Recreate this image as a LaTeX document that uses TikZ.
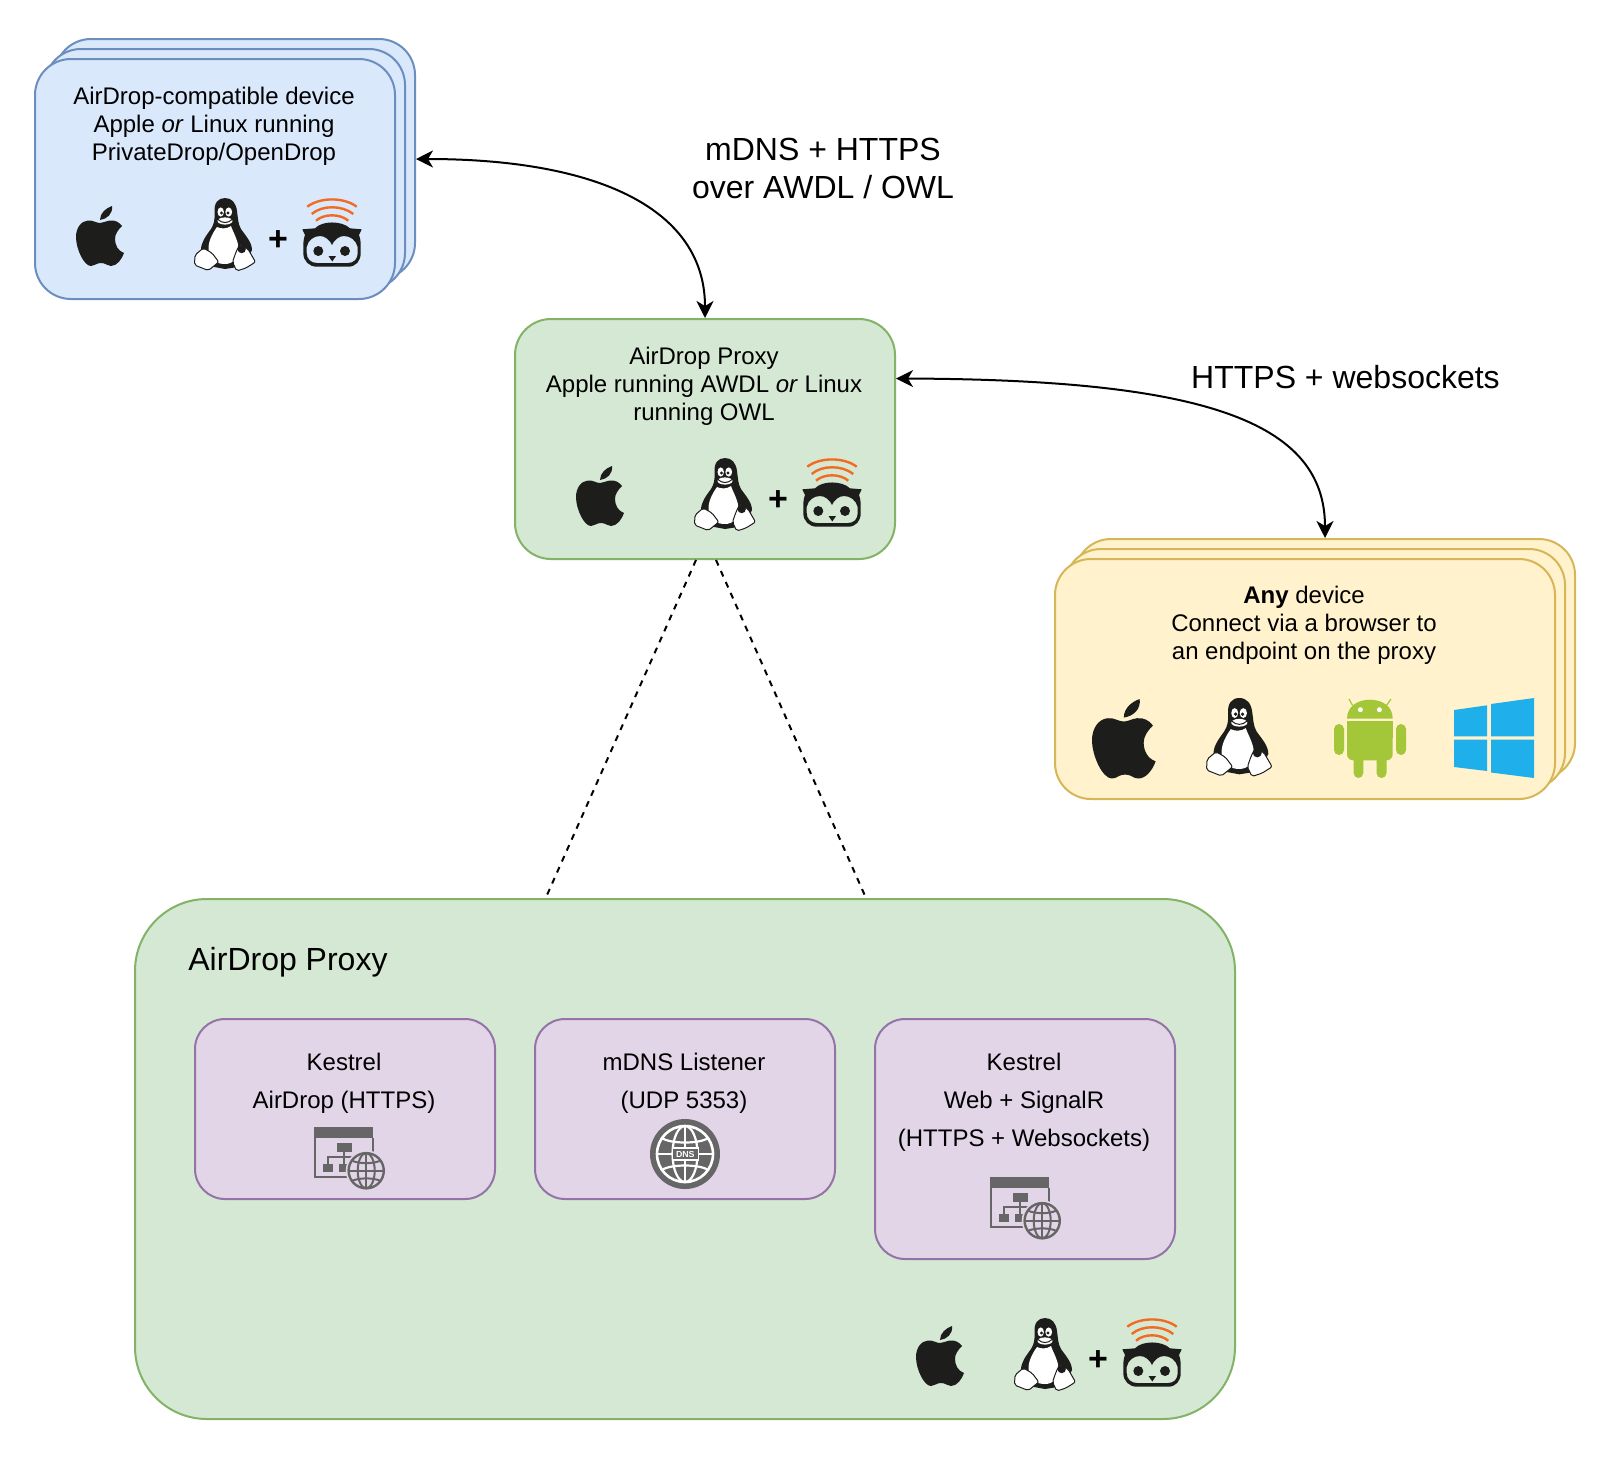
\documentclass[tikz,border=0pt]{standalone}
\usepackage{fontspec}
\setmainfont{Liberation Sans}
\usetikzlibrary{arrows.meta,calc}
\definecolor{ink}{HTML}{1D1D1B}
\definecolor{owlorange}{HTML}{F26B21}
\definecolor{droid}{HTML}{A4C639}
\definecolor{winblue}{HTML}{1FB0EC}
\definecolor{netgray}{HTML}{666666}
\definecolor{lilac}{HTML}{E1D5E7}
\tikzset{
  panel/.style={draw,line width=1pt,rounded corners=18pt,inner sep=0pt},
  bluepanel/.style={panel,fill={rgb,255:red,218;green,232;blue,252},draw={rgb,255:red,108;green,142;blue,191},minimum width=180pt,minimum height=120pt},
  yellowpanel/.style={panel,fill={rgb,255:red,255;green,242;blue,204},draw={rgb,255:red,214;green,182;blue,86},minimum width=250pt,minimum height=120pt},
  greenpanel/.style={panel,fill={rgb,255:red,213;green,232;blue,212},draw={rgb,255:red,130;green,179;blue,102}},
  purplepanel/.style={panel,fill=lilac,draw={rgb,255:red,150;green,115;blue,166},rounded corners=15pt,minimum width=150pt},
  body/.style={align=center,inner sep=0pt,font=\fontsize{12}{14}\selectfont},
  tallbody/.style={align=center,inner sep=0pt,font=\fontsize{12}{19}\selectfont},
  biglabel/.style={align=center,inner sep=0pt,font=\fontsize{16}{19}\selectfont},
  plussign/.style={inner sep=0pt,font=\fontsize{17}{17}\selectfont\bfseries},
  link/.style={line width=1pt,{Stealth[length=8.5pt,width=8.5pt,inset=2.5pt]}-{Stealth[length=8.5pt,width=8.5pt,inset=2.5pt]}},
  tie/.style={line width=1pt,dash pattern=on 3pt off 3pt},
  appleicon/.pic={
    \fill[ink] (24,17) .. controls (20,17) and (17,14) .. (12,14.5) .. controls (5,15) and (0,22) .. (0,31) .. controls (0,43) and (8,60) .. (15,60) .. controls (19,60) and (20,57) .. (25,57) .. controls (30,57) and (31,60) .. (35,60) .. controls (41,60) and (46,53) .. (48,47) .. controls (42,45) and (39,39) .. (39,33) .. controls (39,28) and (42,24) .. (46,20) .. controls (43,16) and (39,14) .. (34,14.5) .. controls (30,15) and (27,17) .. (24,17) -- cycle;
    \fill[ink] (24,14) .. controls (24,7) and (30,2) .. (36,0) .. controls (37,8) and (31,13) .. (24,14) -- cycle;
  },
  tuxicon/.pic={
    \fill[ink] (31,0) .. controls (24,0) and (20,5) .. (20.5,14) .. controls (21,22) and (20,26) .. (17,31) .. controls (12,38) and (7,44) .. (7,52) -- (15,68) -- (31,71) -- (50,68) -- (58,52) .. controls (58,44) and (51,37) .. (47,31) .. controls (44,26) and (44,20) .. (43,13) .. controls (42,5) and (38,0) .. (31,0) -- cycle;
    \fill[white] (23,29) .. controls (18,36) and (14,44) .. (14.5,52) .. controls (15,62) and (23,66) .. (31,66) .. controls (39,66) and (45,60) .. (44.5,50) .. controls (44,42) and (39,34) .. (37,28) .. controls (33,31) and (27,31) .. (23,29) -- cycle;
    \fill[white] (26.7,14) ellipse[x radius=3.2,y radius=4.6];
    \fill[white] (34.7,14) ellipse[x radius=3.4,y radius=4.6];
    \fill[ink] (27.5,15) circle[radius=1.7];
    \fill[ink] (34,15) circle[radius=1.7];
    \fill[white] (31,23) ellipse[x radius=7.5,y radius=3.6];
    \draw[ink,line width=0.5pt] (24,21.5) .. controls (28,25.5) and (34,25.5) .. (38,21.5);
    \filldraw[fill=white,draw=ink,line width=0.5pt,rounded corners=1pt] (9.3,50) -- (1,57) -- (0.5,67) -- (14.3,72.5) -- (24.8,64) -- (18,55) -- cycle;
    \filldraw[fill=white,draw=ink,line width=0.5pt,rounded corners=1pt] (46,46) -- (54,51) -- (61.5,64) -- (52,70) -- (42.7,73) -- (38.5,64) -- (42,54) -- cycle;
    \fill[ink] (47.7,51) circle[radius=4.2];
  },
  owlicon/.pic={
    \draw[owlorange,line width=1.2pt] (5.3,7.7) .. controls (18,-2) and (42,-2) .. (54.7,7.7);
    \draw[owlorange,line width=1.2pt] (9.7,15) .. controls (20,6) and (40,6) .. (51.3,15);
    \draw[owlorange,line width=1.2pt] (14,21.7) .. controls (22,14.5) and (38,14.5) .. (46.3,21.7);
    \fill[ink,even odd rule] (0.3,30.3) -- (13,29.3) .. controls (20,21.5) and (40,21.5) .. (48,29.3) -- (59.7,30.3) -- (57,36) .. controls (58.5,40) and (58.7,43) .. (58.7,48) -- (58.7,54) .. controls (58.7,62) and (54,67.7) .. (46,67.7) -- (15,67.7) .. controls (7,67.7) and (1.3,62) .. (1.3,54) -- (1.3,48) .. controls (1.3,43) and (1.5,40) .. (3,36) -- cycle
      (4.7,48) .. controls (6,41) and (12,37) .. (18,37) .. controls (23,37) and (28,41) .. (30,46) .. controls (32,41) and (37,37) .. (42,37) .. controls (48,37) and (54,41) .. (55.7,48) -- (55.7,54) .. controls (55.7,60) and (52,64) .. (46,64) -- (15,64) .. controls (9,64) and (4.7,60) .. (4.7,54) -- cycle;
    \fill[ink] (16.3,52) circle[radius=5];
    \fill[ink] (43,52) circle[radius=5];
    \fill[ink] (26.5,57) -- (34,57) -- (30.3,62.5) -- cycle;
  },
  androidicon/.pic={
    \fill[droid] (13,20.7) .. controls (13,8) and (24,1.7) .. (36,1.7) .. controls (48,1.7) and (58.7,8) .. (58.7,20.7) -- cycle;
    \draw[droid,line width=0.6pt] (15,1) -- (18.6,7.5) (57,1) -- (52.5,7.5);
    \fill[white] (26.4,11.7) circle[radius=2.5];
    \fill[white] (45.4,11.7) circle[radius=2.5];
    \fill[droid,rounded corners=3pt] (13,23.3) -- (58.7,23.3) -- (58.7,62.3) -- (13,62.3) -- cycle;
    \fill[droid] (13,23.3) rectangle (58.7,40);
    \fill[droid,rounded corners=2.5pt] (0,26) rectangle (10,57);
    \fill[droid,rounded corners=2.5pt] (62,26) rectangle (72,57);
    \fill[droid,rounded corners=2.5pt] (19.6,55) rectangle (29.3,80);
    \fill[droid,rounded corners=2.5pt] (42.5,55) rectangle (52.5,80);
  },
  windowsicon/.pic={
    \fill[winblue] (0,12) -- (33,7.3) -- (33,38.3) -- (0,38.3) -- cycle;
    \fill[winblue] (37,6) -- (80,0) -- (80,38.3) -- (37,38.3) -- cycle;
    \fill[winblue] (0,41.7) -- (33,41.7) -- (33,73) -- (0,69) -- cycle;
    \fill[winblue] (37,41.7) -- (80,41.7) -- (80,80) -- (37,74.5) -- cycle;
  },
  webicon/.pic={
    \draw[netgray,line width=1pt] (1,11) -- (1,49.7) -- (59,49.7) (58.5,11) -- (58.5,45);
    \fill[netgray] (0,0) rectangle (59,11.3);
    \fill[netgray] (23.3,16.3) rectangle (37.7,25.3);
    \fill[netgray] (9.3,37) rectangle (19.3,45.3);
    \fill[netgray] (25.3,37) rectangle (32.7,45.3);
    \draw[netgray,line width=0.9pt] (30.3,25) -- (30.3,37) (13.7,37) -- (13.7,30.3) -- (42,30.3);
    \fill[lilac] (52.2,43.7) circle[radius=20.5];
    \draw[netgray,line width=1.2pt] (52.2,43.7) circle[radius=17.6];
    \draw[netgray,line width=1pt] (52.2,43.7) ellipse[x radius=8.5,y radius=17.6];
    \draw[netgray,line width=1pt] (52.2,26) -- (52.2,61.3) (34.6,43.7) -- (69.8,43.7);
    \draw[netgray,line width=1pt] (37.5,33.5) .. controls (45,37) and (60,37) .. (66.5,33.5);
    \draw[netgray,line width=1pt] (37.5,54) .. controls (45,50.5) and (60,50.5) .. (66.5,54);
  },
  dnsicon/.pic={
    \fill[netgray] (35,35) circle[radius=35];
    \draw[white,line width=1.3pt] (35,35) circle[radius=28];
    \draw[white,line width=1.1pt] (35,35) ellipse[x radius=12.5,y radius=28];
    \draw[white,line width=1.1pt] (35,7) -- (35,29) (35,41) -- (35,63) (7,35) -- (22,35) (48,35) -- (63,35);
    \draw[white,line width=1.1pt] (12,19) .. controls (20,25) and (50,25) .. (58,19);
    \draw[white,line width=1.1pt] (12,51) .. controls (20,45) and (50,45) .. (58,51);
    \filldraw[fill=netgray,draw=white,line width=0.7pt] (22.3,29) rectangle (48.3,41);
    \node[text=white,inner sep=0pt,font=\fontsize{4.4}{5}\selectfont\bfseries] (-label) at (35.3,35) {DNS};
  },
}
\begin{document}
\begin{tikzpicture}[x=0.5pt,y=-0.5pt]
\useasboundingbox (0,0) rectangle (1618,1458);
\fill[white] (0,0) rectangle (1618,1458);

% blue stack
\node[bluepanel] (blueback) at (235,159) {};
\node[bluepanel] (bluemid) at (225,169) {};
\node[bluepanel] (bluefront) at (215,179) {};
\node[body] (bluetext) at (214,126) {AirDrop-compatible device\\Apple \textit{or} Linux running\\PrivateDrop/OpenDrop};
\pic at (76,206) {appleicon};
\pic at (194,198) {tuxicon};
\node[plussign] (blueplus) at (278,241) {+};
\pic at (302,199) {owlicon};

% small proxy
\node[greenpanel,minimum width=190pt,minimum height=120pt] (proxy) at (705,439) {};
\node[body] (proxytext) at (704,386) {AirDrop Proxy\\Apple running AWDL \textit{or} Linux\\running OWL};
\pic at (576,466) {appleicon};
\pic at (694,458) {tuxicon};
\node[plussign] (proxyplus) at (778,501) {+};
\pic at (802,459) {owlicon};

% yellow stack
\node[yellowpanel] (yellowback) at (1325,659) {};
\node[yellowpanel] (yellowmid) at (1315,669) {};
\node[yellowpanel] (yellowfront) at (1305,679) {};
\node[body] (yellowtext) at (1304,625.5) {\textbf{Any} device\\Connect via a browser to\\an endpoint on the proxy};
\pic[scale=1.325] at (1092,699) {appleicon};
\pic[scale=1.075] at (1206,698) {tuxicon};
\pic at (1334,698) {androidicon};
\pic at (1454,698) {windowsicon};

% big proxy
\node[greenpanel,rounded corners=36pt,minimum width=550pt,minimum height=260pt] (bigproxy) at (685,1159) {};
\node[anchor=west,inner sep=0pt,font=\fontsize{16}{19}\selectfont] (bigtitle) at (188,962) {AirDrop Proxy};
\node[purplepanel,minimum height=90pt] (kestrelA) at (345,1109) {};
\node[purplepanel,minimum height=90pt] (mdns) at (685,1109) {};
\node[purplepanel,minimum height=120pt] (kestrelB) at (1025,1139) {};
\node[tallbody] (kestrelAtext) at (344,1083) {Kestrel\\AirDrop (HTTPS)};
\node[tallbody] (mdnstext) at (684,1083) {mDNS Listener\\(UDP 5353)};
\node[tallbody] (kestrelBtext) at (1024,1102) {Kestrel\\Web + SignalR\\(HTTPS + Websockets)};
\pic at (314,1127) {webicon};
\pic (dnsglobe) at (650,1119) {dnsicon};
\pic at (990,1177) {webicon};
\pic at (916,1326) {appleicon};
\pic at (1014,1318) {tuxicon};
\node[plussign] (bigplus) at (1098,1361) {+};
\pic at (1122,1319) {owlicon};

% labels
\node[biglabel] (toplabel) at (823,168) {mDNS + HTTPS\\over AWDL / OWL};
\node[biglabel] (rightlabel) at (1345.5,377) {HTTPS + websockets};

% connectors
\draw[link] (blueback.east) .. controls (600,159) and (705,210) .. (proxy.north);
\draw[link] ($(proxy.north east)+(0,60.5)$) .. controls (1200,379.5) and (1325,420) .. (yellowback.north);
\draw[tie] ($(proxy.south)+(-9,0)$) -- ($(bigproxy.north)+(-138,-3)$);
\draw[tie] ($(proxy.south)+(11,0)$) -- ($(bigproxy.north)+(181,0)$);
\end{tikzpicture}
\end{document}
